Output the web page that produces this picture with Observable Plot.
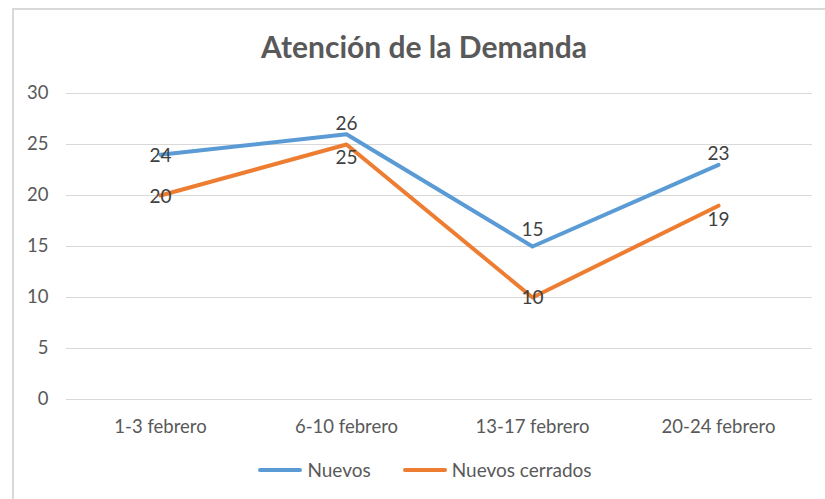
<!DOCTYPE html>
<html><head><meta charset="utf-8">
<script src="https://cdn.jsdelivr.net/npm/d3@7"></script>
<script src="https://cdn.jsdelivr.net/npm/@observablehq/plot@0.6"></script>
<style>
body{margin:0;background:#fff;font-family:Lato,"Open Sans",sans-serif;}
#frame{position:absolute;left:12px;top:8px;width:830px;height:520px;border-left:2px solid #d9d9d9;border-top:2px solid #d9d9d9;}
#title{position:absolute;left:0;top:28px;width:848px;text-align:center;font-size:30px;font-weight:bold;color:#595959;line-height:36px;}
#chart{position:absolute;left:0;top:70px;}
#legend{position:absolute;left:0;top:458px;width:850px;display:flex;justify-content:center;font-size:19px;color:#595959;line-height:24px;}
.item{display:flex;align-items:center;margin:0 16px;}
.sw{width:44px;height:4px;border-radius:2px;margin-right:5px;}
</style></head><body>
<div id="frame"></div>
<div id="title">Atención de la Demanda</div>
<div id="chart"></div>
<div id="legend"></div>
<script>
const categories = ["1-3 febrero", "6-10 febrero", "13-17 febrero", "20-24 febrero"];
const nuevos = [24, 26, 15, 23];
const nuevosCerrados = [20, 25, 10, 19];
const seriesNames = ["Nuevos", "Nuevos cerrados"];
const yTicks = [0, 5, 10, 15, 20, 25, 30];
const colors = ["#5B9BD5", "#ED7D31"];
const labelDy = [[1, -10, -17, -11], [1, 13, 0, 14]];

const data = [];
[nuevos, nuevosCerrados].forEach((vals, s) => vals.forEach((v, i) => data.push({cat: categories[i], value: v, series: seriesNames[s], dy: labelDy[s][i]})));

const chart = Plot.plot({
  width: 825, height: 380,
  marginLeft: 66, marginRight: 13, marginTop: 23, marginBottom: 51,
  style: {fontFamily: "Lato, 'Open Sans', sans-serif", fontSize: "18.5px", color: "#595959", background: "transparent"},
  x: {type: "point", domain: categories, padding: 0.5, label: null, tickSize: 0, tickPadding: 20},
  y: {domain: [0, 30], ticks: yTicks, label: null, tickSize: 0, tickPadding: 18},
  color: {domain: seriesNames, range: colors},
  marks: [
    Plot.ruleY(yTicks, {stroke: "#d9d9d9", strokeWidth: 1}),
    Plot.line(data, {x: "cat", y: "value", z: "series", stroke: "series", strokeWidth: 4, strokeLinejoin: "round"}),
    ...data.map(d => Plot.text([d], {x: "cat", y: "value", text: d => String(d.value), dy: d.dy, fill: "#404040", fontSize: 19}))
  ]
});
document.getElementById("chart").appendChild(chart);

const legend = document.getElementById("legend");
seriesNames.forEach((n, i) => {
  const it = document.createElement("div"); it.className = "item";
  const sw = document.createElement("div"); sw.className = "sw"; sw.style.background = colors[i];
  const t = document.createElement("span"); t.textContent = n;
  it.appendChild(sw); it.appendChild(t); legend.appendChild(it);
});
</script></body></html>
